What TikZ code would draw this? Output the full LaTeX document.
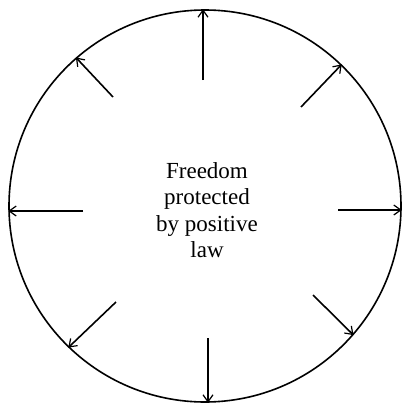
\documentclass[tikz,border=0pt]{standalone}
\usepackage{fontspec}
\setmainfont{Liberation Serif}
\usetikzlibrary{arrows.meta}
\begin{document}
\begin{tikzpicture}[x=1pt,y=-1pt,
  ringline/.style={line width=1.6pt},
  outarrow/.style={line width=1.6pt,-{Straight Barb[length=7pt,width=10pt,line width=1.2pt]}}]
\useasboundingbox (0,0) rectangle (403,407);
\node[circle,draw,ringline,minimum size=392pt,inner sep=0pt] (ring) at (205,206) {};
\node[align=center,font=\fontsize{23}{26.5}\selectfont] (txt) at (207,210) {Freedom\\protected\\by positive\\law};
\coordinate (sN) at (203,80);
\coordinate (sNW) at (113,97);
\coordinate (sNE) at (301,107);
\coordinate (sW) at (83,211);
\coordinate (sE) at (338,210);
\coordinate (sSW) at (116,302);
\coordinate (sSE) at (313,295);
\coordinate (sS) at (208,338);
\draw[outarrow] (sN) -- (sN |- ring.north);
\draw[outarrow] (sNW) -- (ring.131);
\draw[outarrow] (sNE) -- (ring.46);
\draw[outarrow] (sW) -- (ring.west |- sW);
\draw[outarrow] (sE) -- (ring.east |- sE);
\draw[outarrow] (sSW) -- (ring.226);
\draw[outarrow] (sSE) -- (ring.319);
\draw[outarrow] (sS) -- (sS |- ring.south);
\end{tikzpicture}
\end{document}
